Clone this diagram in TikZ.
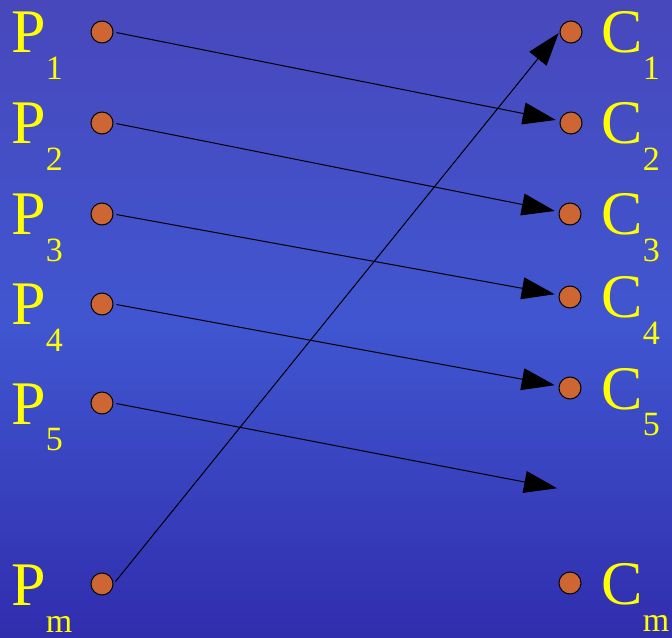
\documentclass[tikz,border=0pt]{standalone}
\usepackage{fontspec}
\newfontfamily\serifpolice{Liberation Serif}
\usetikzlibrary{arrows.meta, positioning, calc}

\definecolor{bleuhaut}{RGB}{72,72,188}
\definecolor{bleumil}{RGB}{64,86,208}
\definecolor{bleubas}{RGB}{48,44,172}
\definecolor{jaune}{RGB}{255,255,0}
\definecolor{pastille}{RGB}{205,102,51}

\newcommand{\indice}[1]{\raisebox{-20.25pt}{\fontsize{25.5pt}{26pt}\selectfont #1}}

\begin{document}
\begin{tikzpicture}[
  x=0.75pt, y=-0.75pt, line width=0.75pt,
  point/.style={circle, draw=black, fill=pastille, minimum size=16.5pt, inner sep=0pt},
  lettre/.style={anchor=base west, inner sep=0pt, text=jaune, font=\serifpolice\fontsize{46.5pt}{48pt}\selectfont},
  fleche/.style={-{Triangle[length=24.75pt, width=16.5pt]}, shorten <=2.25pt, shorten >=3pt}
]
  \useasboundingbox (0,0) rectangle (672,638);
  % Fond degrade en bandes horizontales.
  \foreach \i in {0,...,63}{
    \pgfmathtruncatemacro{\t}{\i<32 ? \i*100/32 : (\i-32)*100/32}
    \ifnum\i<32 \colorlet{bande}{bleumil!\t!bleuhaut}\else\colorlet{bande}{bleubas!\t!bleumil}\fi
    \fill[bande] (0,\i*10) rectangle (672,\i*10+11);
  }

  % Producteurs a gauche, consommateurs a droite.
  \node[point] (p1) at (102,32) {};
  \node[point] (p2) at (102,123) {};
  \node[point] (p3) at (102,214) {};
  \node[point] (p4) at (102,304) {};
  \node[point] (p5) at (102,403) {};
  \node[point] (pm) at (102,584) {};

  \node[point] (c1) at (571,32) {};
  \node[point] (c2) at (571,123) {};
  \node[point] (c3) at (570,214) {};
  \node[point] (c4) at (570,297) {};
  \node[point] (c5) at (570,388) {};
  \node[point] (cm) at (570,583) {};
  \coordinate (c6) at (561,489);

  \node[lettre] (lp1) at (11,53) {P\indice{1}};
  \node[lettre] (lp2) at (11,144) {P\indice{2}};
  \node[lettre] (lp3) at (11,235) {P\indice{3}};
  \node[lettre] (lp4) at (11,325) {P\indice{4}};
  \node[lettre] (lp5) at (11,424) {P\indice{5}};
  \node[lettre] (lpm) at (11,605) {P\indice{m}};

  \node[lettre] (lc1) at (601,53) {C\indice{1}};
  \node[lettre] (lc2) at (601,144) {C\indice{2}};
  \node[lettre] (lc3) at (601,235) {C\indice{3}};
  \node[lettre] (lc4) at (601,318) {C\indice{4}};
  \node[lettre] (lc5) at (601,409) {C\indice{5}};
  \node[lettre] (lcm) at (601,604) {C\indice{m}};

  \draw[fleche] (p1.east) -- (c2);
  \draw[fleche] (p2.east) -- (c3);
  \draw[fleche] (p3.east) -- (c4);
  \draw[fleche] (p4.east) -- (c5);
  \draw[fleche] (p5.east) -- (c6);
  \draw[fleche, shorten >=1pt] (pm.east) -- (c1.west);
\end{tikzpicture}
\end{document}
